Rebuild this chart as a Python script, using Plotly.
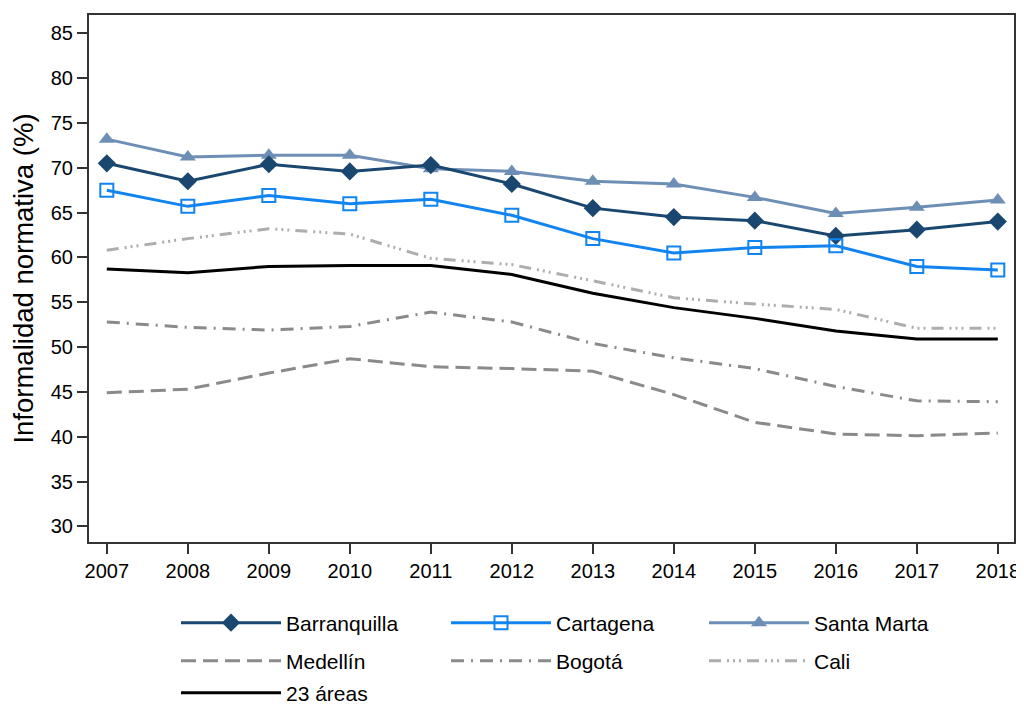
import plotly.graph_objects as go

years = [2007, 2008, 2009, 2010, 2011, 2012, 2013, 2014, 2015, 2016, 2017, 2018]
barranquilla = [70.5, 68.5, 70.4, 69.6, 70.3, 68.2, 65.5, 64.5, 64.1, 62.4, 63.1, 64.0]
cartagena = [67.5, 65.7, 66.9, 66.0, 66.5, 64.7, 62.1, 60.5, 61.1, 61.3, 59.0, 58.6]
santa_marta = [73.2, 71.2, 71.4, 71.4, 69.9, 69.6, 68.5, 68.2, 66.7, 64.9, 65.6, 66.4]
medellin = [44.9, 45.3, 47.1, 48.7, 47.8, 47.6, 47.3, 44.7, 41.6, 40.3, 40.1, 40.4]
bogota = [52.8, 52.2, 51.9, 52.3, 53.9, 52.8, 50.4, 48.8, 47.6, 45.6, 44.0, 43.9]
cali = [60.8, 62.1, 63.2, 62.6, 59.9, 59.2, 57.4, 55.5, 54.8, 54.2, 52.1, 52.1]
areas23 = [58.7, 58.3, 59.0, 59.1, 59.1, 58.1, 56.0, 54.4, 53.2, 51.8, 50.9, 50.9]
y_ticks = [30, 35, 40, 45, 50, 55, 60, 65, 70, 75, 80, 85]

font = "Liberation Sans, Arial, sans-serif"

# page body has an 8px default margin: figure coords = screen coords - 8
OFF = 8
W, H = 1024 - OFF, 706 - OFF
PL, PR, PT, PB = 89 - OFF, 1014 - OFF, 15 - OFF, 542 - OFF

def lx(text_px):
    return (text_px - OFF - 111 - PL) / (PR - PL)

def ly(center_px):
    return (PB - (center_px - OFF)) / (PB - PT)

cols = [287, 557, 815]
rows = [623, 661, 693]

fig = go.Figure()
legends = {}

def add(name, y, color, dash, width, col, row, marker=None):
    key = f"legend{len(legends) + 2}"
    legends[key] = dict(x=lx(cols[col]), y=ly(rows[row]), xanchor="left", yanchor="middle",
                        orientation="h", itemwidth=100, bgcolor="rgba(0,0,0,0)",
                        visible=True,
                        font=dict(size=21, family=font, color="#000"))
    kw = dict(x=years, y=y, name=name, legend=key, showlegend=True,
              line=dict(color=color, width=width, dash=dash))
    if marker:
        kw["mode"] = "lines+markers"
        kw["marker"] = marker
    else:
        kw["mode"] = "lines"
    fig.add_trace(go.Scatter(**kw))

gray = "#8a8a8a"
add("Medellín", medellin, gray, "15px,7px", 3, 0, 1)
add("Bogotá", bogota, gray, "13px,7px,2px,7px", 3, 1, 1)
add("Cali", cali, "#adadad", "12px,6px,2px,4px,2px,4px,2px,6px", 3, 2, 1)
add("23 áreas", areas23, "#000000", "solid", 3, 0, 2)
add("Santa Marta", santa_marta, "#6e8fb5", "solid", 3, 2, 0,
    marker=dict(symbol="triangle-up", size=14, color="#6e8fb5"))
add("Barranquilla", barranquilla, "#1a476f", "solid", 3, 0, 0,
    marker=dict(symbol="diamond", size=14, color="#1a476f"))
add("Cartagena", cartagena, "#1284f0", "solid", 3, 1, 0,
    marker=dict(symbol="square-open", size=13, color="#1284f0",
                line=dict(width=2, color="#1284f0")))

fig.update_layout(
    width=W, height=H, showlegend=True,
    margin=dict(l=PL, r=W - PR, t=PT, b=H - PB, autoexpand=False),
    plot_bgcolor="white", paper_bgcolor="white",
    font=dict(family=font, size=20, color="#000"),
    xaxis=dict(range=[2006.78, 2018.2], tickmode="array", tickvals=years,
               ticktext=[str(y) for y in years], ticks="outside", ticklen=10,
               tickcolor="#333", tickwidth=1.5, showline=True, linecolor="#333",
               linewidth=2, mirror=True, showgrid=False, zeroline=False,
               tickfont=dict(size=20), automargin=False),
    yaxis=dict(range=[28.25, 87.05], tickmode="array", tickvals=y_ticks,
               ticks="outside", ticklen=10, tickcolor="#333", tickwidth=1.5,
               showline=True, linecolor="#333", linewidth=2, mirror=True,
               showgrid=False, zeroline=False, tickfont=dict(size=20), automargin=False,
               title=dict(text="Informalidad normativa (%)", font=dict(size=27.5), standoff=11)),
)
fig.update_layout(**legends)

fig.write_html("out.html")
